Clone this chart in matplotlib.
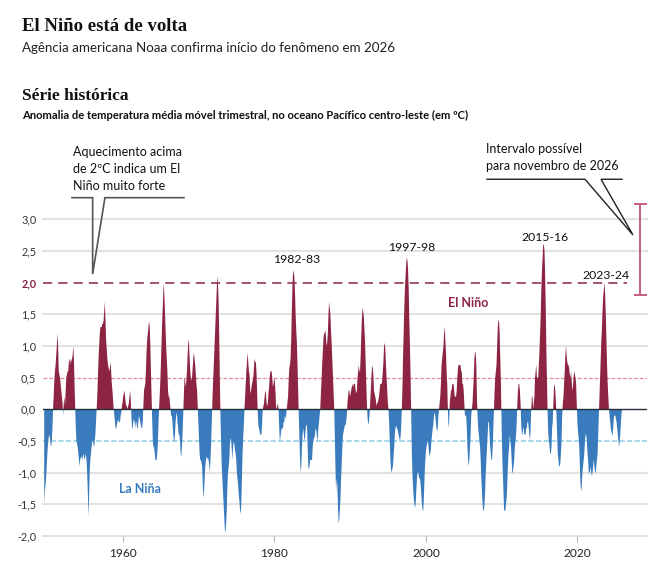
import numpy as np
import matplotlib
matplotlib.use("Agg")
import matplotlib.pyplot as plt

# ---------------- data: ONI (3-month running mean SST anomaly, degC), monthly from Jan 1950 ----
first_year = 1950
oni_1950s = [
    -1.5, -1.3, -1.2, -1.1, -0.9, -0.7, -0.55, -0.45, -0.4, -0.45, -0.55, -0.6,
    -0.5, -0.3, 0.0, 0.2, 0.45, 0.6, 0.7, 0.85, 1.0, 1.2, 1.0, 0.6,
    0.55, 0.5, 0.4, 0.3, 0.2, 0.1, -0.1, 0.1, 0.2, 0.05, 0.3, 0.5,
    0.55, 0.6, 0.6, 0.75, 0.8, 0.7, 0.8, 0.75, 0.8, 0.85, 1.0, 0.8,
    0.4, 0.05, -0.3, -0.5, -0.55, -0.6, -0.7, -0.8, -0.9, -0.8, -0.75, -0.75,
    -0.8, -0.75, -0.7, -0.75, -0.8, -0.75, -0.7, -0.8, -1.0, -1.3, -1.7, -1.4,
    -1.0, -0.8, -0.7, -0.6, -0.5, -0.5, -0.55, -0.6, -0.5, -0.4, -0.2, 0.0,
    0.2, 0.5, 0.8, 1.0, 1.2, 1.3, 1.3, 1.3, 1.35, 1.35, 1.4, 1.55,
    1.7, 1.4, 1.1, 0.95, 0.8, 0.7, 0.65, 0.6, 0.65, 0.75, 0.6, 0.4,
    0.3, 0.15, 0.0, -0.1, -0.2, -0.3, -0.3, -0.25, -0.2, -0.15, -0.2, -0.2,
]
oni_1960s = [
    -0.2, -0.1, -0.05, 0.05, 0.1, 0.2, 0.25, 0.3, 0.2, 0.1, 0.05, 0.05,
    0.0, 0.05, 0.1, 0.2, 0.3, 0.15, -0.1, -0.3, -0.3, -0.2, -0.15, -0.2,
    -0.3, -0.2, -0.2, -0.3, -0.3, -0.2, -0.1, -0.15, -0.2, -0.25, -0.3, -0.3,
    -0.2, 0.05, 0.3, 0.35, 0.4, 0.6, 0.9, 1.1, 1.2, 1.3, 1.4, 1.3,
    1.0, 0.6, 0.2, -0.2, -0.5, -0.6, -0.6, -0.7, -0.8, -0.8, -0.8, -0.7,
    -0.5, -0.2, 0.05, 0.25, 0.5, 0.8, 1.15, 1.45, 1.7, 2.0, 1.85, 1.6,
    1.3, 1.0, 0.8, 0.6, 0.3, 0.2, 0.2, 0.1, 0.0, -0.1, -0.1, -0.2,
    -0.35, -0.5, -0.5, -0.4, -0.2, -0.1, -0.05, -0.2, -0.3, -0.4, -0.4, -0.5,
    -0.7, -0.75, -0.6, -0.4, -0.1, 0.2, 0.5, 0.45, 0.35, 0.45, 0.6, 0.85,
    1.05, 1.1, 0.85, 0.65, 0.5, 0.45, 0.5, 0.65, 0.8, 0.9, 0.8, 0.7,
]
oni_1970s = [
    0.55, 0.4, 0.3, 0.05, -0.2, -0.45, -0.7, -0.8, -0.8, -0.85, -0.9, -1.2,
    -1.4, -1.3, -1.1, -0.9, -0.8, -0.75, -0.8, -0.75, -0.8, -0.85, -1.0, -0.85,
    -0.6, -0.3, 0.05, 0.35, 0.6, 0.85, 1.1, 1.35, 1.6, 1.85, 2.1, 2.0,
    1.75, 1.2, 0.5, -0.1, -0.5, -0.9, -1.1, -1.3, -1.5, -1.7, -1.9, -1.95,
    -1.8, -1.6, -1.2, -1.0, -0.9, -0.8, -0.55, -0.45, -0.5, -0.65, -0.8, -0.6,
    -0.5, -0.55, -0.65, -0.7, -0.8, -1.0, -1.1, -1.2, -1.35, -1.45, -1.6, -1.65,
    -1.5, -1.1, -0.7, -0.45, -0.25, 0.0, 0.2, 0.4, 0.6, 0.75, 0.9, 0.75,
    0.6, 0.55, 0.3, 0.25, 0.35, 0.4, 0.45, 0.5, 0.65, 0.8, 0.75, 0.75,
    0.6, 0.3, -0.05, -0.25, -0.3, -0.35, -0.4, -0.4, -0.4, -0.2, 0.0, 0.05,
    0.1, 0.2, 0.3, 0.25, 0.1, 0.05, 0.1, 0.25, 0.35, 0.5, 0.6, 0.6,
]
oni_1980s = [
    0.6, 0.5, 0.35, 0.4, 0.5, 0.45, 0.3, 0.05, 0.0, 0.05, 0.1, 0.0,
    -0.3, -0.5, -0.45, -0.35, -0.3, -0.3, -0.3, -0.2, -0.2, -0.1, -0.15, -0.1,
    0.0, 0.1, 0.2, 0.45, 0.65, 0.7, 0.8, 1.1, 1.55, 1.95, 2.2, 2.15,
    2.1, 1.85, 1.5, 1.25, 1.05, 0.7, 0.3, -0.1, -0.45, -0.8, -1.0, -0.9,
    -0.6, -0.4, -0.3, -0.4, -0.5, -0.45, -0.3, -0.25, -0.25, -0.6, -0.9, -0.95,
    -0.9, -0.8, -0.8, -0.8, -0.8, -0.6, -0.5, -0.45, -0.45, -0.35, -0.3, -0.35,
    -0.5, -0.45, -0.3, -0.2, -0.1, 0.0, 0.25, 0.45, 0.7, 0.9, 1.1, 1.2,
    1.2, 1.25, 1.15, 1.0, 1.05, 1.2, 1.5, 1.7, 1.6, 1.5, 1.25, 1.05,
    0.8, 0.55, 0.3, 0.05, -0.4, -0.9, -1.3, -1.1, -1.2, -1.5, -1.8, -1.75,
    -1.6, -1.4, -1.1, -0.85, -0.6, -0.4, -0.35, -0.3, -0.25, -0.25, -0.2, -0.1,
]
oni_1990s = [
    0.1, 0.2, 0.3, 0.3, 0.2, 0.25, 0.3, 0.35, 0.4, 0.35, 0.4, 0.4,
    0.4, 0.3, 0.25, 0.3, 0.5, 0.6, 0.7, 0.6, 0.6, 0.85, 1.2, 1.45,
    1.6, 1.55, 1.45, 1.25, 1.05, 0.7, 0.35, 0.05, -0.15, -0.25, -0.2, -0.1,
    0.1, 0.3, 0.5, 0.7, 0.65, 0.55, 0.3, 0.25, 0.2, 0.15, 0.05, 0.1,
    0.1, 0.15, 0.2, 0.3, 0.4, 0.4, 0.4, 0.45, 0.6, 0.75, 1.0, 1.05,
    0.95, 0.7, 0.5, 0.3, 0.1, 0.0, -0.2, -0.5, -0.8, -0.95, -1.0, -0.95,
    -0.9, -0.75, -0.6, -0.4, -0.3, -0.25, -0.3, -0.3, -0.35, -0.4, -0.45, -0.5,
    -0.45, -0.3, -0.05, 0.3, 0.8, 1.2, 1.6, 1.9, 2.1, 2.3, 2.4, 2.35,
    2.2, 1.9, 1.4, 1.0, 0.5, -0.1, -0.7, -1.05, -1.25, -1.4, -1.5, -1.55,
    -1.5, -1.3, -1.1, -1.0, -1.0, -1.05, -1.1, -1.1, -1.2, -1.35, -1.5, -1.6,
]
oni_2000s = [
    -1.6, -1.4, -1.1, -0.85, -0.7, -0.6, -0.55, -0.5, -0.55, -0.65, -0.75, -0.7,
    -0.65, -0.5, -0.4, -0.3, -0.25, -0.1, -0.05, -0.1, -0.2, -0.3, -0.35, -0.3,
    -0.1, 0.0, 0.1, 0.2, 0.4, 0.7, 0.8, 0.9, 1.0, 1.2, 1.3, 1.1,
    0.9, 0.6, 0.4, 0.0, -0.3, -0.2, 0.1, 0.2, 0.3, 0.3, 0.4, 0.4,
    0.4, 0.3, 0.2, 0.2, 0.2, 0.3, 0.5, 0.65, 0.7, 0.7, 0.7, 0.7,
    0.6, 0.6, 0.4, 0.4, 0.3, 0.1, -0.1, -0.1, -0.1, -0.3, -0.6, -0.8,
    -0.9, -0.8, -0.6, -0.4, -0.1, 0.0, 0.1, 0.3, 0.5, 0.8, 0.9, 0.9,
    0.7, 0.2, -0.1, -0.3, -0.4, -0.5, -0.6, -0.8, -1.1, -1.3, -1.5, -1.6,
    -1.6, -1.5, -1.3, -1.0, -0.8, -0.6, -0.4, -0.2, -0.2, -0.4, -0.6, -0.7,
    -0.8, -0.8, -0.6, -0.3, 0.0, 0.3, 0.5, 0.6, 0.7, 1.0, 1.3, 1.4,
]
oni_2010s = [
    1.4, 1.2, 0.8, 0.4, -0.2, -0.7, -1.0, -1.3, -1.6, -1.6, -1.6, -1.5,
    -1.4, -1.2, -0.9, -0.7, -0.6, -0.4, -0.5, -0.6, -0.8, -1.0, -1.0, -0.9,
    -0.8, -0.6, -0.5, -0.4, -0.2, 0.1, 0.3, 0.4, 0.4, 0.3, 0.1, -0.2,
    -0.4, -0.4, -0.3, -0.3, -0.4, -0.4, -0.4, -0.3, -0.3, -0.2, -0.2, -0.3,
    -0.4, -0.5, -0.3, 0.0, 0.2, 0.2, 0.0, 0.1, 0.2, 0.5, 0.6, 0.7,
    0.5, 0.5, 0.5, 0.7, 0.9, 1.2, 1.5, 1.9, 2.2, 2.4, 2.6, 2.6,
    2.5, 2.1, 1.6, 0.9, 0.4, -0.1, -0.4, -0.5, -0.6, -0.7, -0.7, -0.6,
    -0.3, -0.2, 0.1, 0.35, 0.4, 0.3, 0.1, -0.1, -0.4, -0.7, -0.8, -0.9,
    -0.9, -0.85, -0.7, -0.5, -0.1, 0.1, 0.2, 0.4, 0.6, 0.85, 1.0, 0.85,
    0.75, 0.7, 0.7, 0.65, 0.55, 0.5, 0.6, 0.45, 0.3, 0.35, 0.5, 0.6,
]
oni_2020s = [
    0.55, 0.5, 0.4, 0.1, -0.2, -0.35, -0.45, -0.6, -0.9, -1.2, -1.3, -1.2,
    -1.0, -0.9, -0.8, -0.7, -0.5, -0.4, -0.4, -0.5, -0.7, -0.8, -1.0, -1.0,
    -1.0, -0.9, -1.0, -1.05, -1.0, -0.9, -0.8, -0.9, -1.0, -1.0, -0.9, -0.8,
    -0.7, -0.4, -0.1, 0.2, 0.5, 0.8, 1.1, 1.3, 1.6, 1.8, 1.9, 2.0,
    1.8, 1.5, 1.1, 0.7, 0.4, 0.2, 0.0, -0.1, -0.2, -0.3, -0.35, -0.4,
    -0.4, -0.25, -0.1, -0.1, -0.1, -0.15, -0.2, -0.3, -0.4, -0.5, -0.6, -0.5,
    -0.4, -0.2, -0.05, 0.0,
]

# forecast range for November 2026 (degC)
forecast_low, forecast_high = 1.8, 3.25
very_strong = 2.0
threshold = 0.5

yticks = [3.0, 2.5, 2.0, 1.5, 1.0, 0.5, 0.0, -0.5, -1.0, -1.5, -2.0]
xticks = [1960, 1980, 2000, 2020]

peak_labels = ["1982-83", "1997-98", "2015-16", "2023-24"]
peak_pos = [(1983.0, 2.36), (1998.1, 2.55), (2015.65, 2.71), (2023.76, 2.12)]

# ---------------- style ----------------
RED = "#8d2442"
BLUE = "#3a7bbd"
SANS = ["Lato", "DejaVu Sans"]
SERIF = ["Liberation Serif", "DejaVu Serif"]
plt.rcParams["font.family"] = SANS

values = np.array(oni_1950s + oni_1960s + oni_1970s + oni_1980s +
                  oni_1990s + oni_2000s + oni_2010s + oni_2020s, dtype=float)
t = first_year - 0.35 + np.arange(len(values)) / 12.0

W, H = 663, 579
fig = plt.figure(figsize=(W / 100, H / 100), dpi=100)
fig.patch.set_facecolor("white")

ax = fig.add_axes([43.3 / W, 1 - 535.9 / H, 603.4 / W, 335.5 / H])
x0, x1 = 1949.53, 2029.13
ax.set_xlim(x0, x1)
ax.set_ylim(-2.0, 3.3)
for s in ax.spines.values():
    s.set_visible(False)

# grid
for v in yticks:
    if v in (very_strong, threshold, -threshold, 0.0):
        continue
    ax.axhline(v, color="#e2e2e2", lw=1.5, zorder=0, clip_on=False)
ax.axhline(threshold, color="#e28aa2", lw=0.9, ls=(0, (3, 1.5)), zorder=1)
ax.axhline(-threshold, color="#9fd4e8", lw=1.3, ls=(0, (3, 1.2)), zorder=1)
ax.hlines(very_strong, x0, 2026.5, color=RED, lw=1.1, ls=(0, (6, 4)), zorder=3)

# areas
ax.fill_between(t, values, 0, where=values >= 0, interpolate=True,
                color=RED, lw=0, zorder=2)
ax.fill_between(t, values, 0, where=values <= 0, interpolate=True,
                color=BLUE, lw=0, zorder=2)
ax.axhline(0, color="#24303c", lw=1.0, zorder=4)

# ticks
ax.set_yticks(yticks)
ax.set_yticklabels([f"{v:.1f}".replace(".", ",") for v in yticks])
ax.tick_params(axis="y", length=0, pad=5, labelsize=7.8, labelcolor="#333333")
for lab, v in zip(ax.get_yticklabels(), yticks):
    lab.set_fontfamily(SANS)
    if v == very_strong:
        lab.set_color(RED)
        lab.set_fontweight("bold")
ax.set_xticks(xticks)
ax.set_xticklabels([str(x) for x in xticks])
ax.tick_params(axis="x", length=4, width=0.8, color="#b5b5b5", pad=5,
               labelsize=8.6, labelcolor="#222222")

# labels on peaks
for lab, (px, py) in zip(peak_labels, peak_pos):
    ax.text(px, py, lab, ha="center", va="center", fontsize=8.8,
            color="#111111", zorder=5)
ax.text(2005.56, 1.68, "El Niño", ha="center", va="center", fontsize=9,
        fontweight="bold", color=RED)
ax.text(1962.28, -1.26, "La Niña", ha="center", va="center", fontsize=9,
        fontweight="bold", color=BLUE)

# forecast range bar
xb = 2028.25
ax.vlines(xb, forecast_low, forecast_high, color="#c45f7b", lw=1.4, clip_on=False)
ax.hlines([forecast_low, forecast_high], xb - 0.86, xb + 0.86, color="#c45f7b",
          lw=1.4, clip_on=False)

# callouts
ax.plot([1953.31, 1956.04, 1956.04, 1957.66, 1968.09],
        [3.343, 3.343, 2.137, 3.343, 3.343], color="#555555", lw=1.2,
        clip_on=False, solid_joinstyle="miter")
ax.text(1953.44, 3.80, "Aquecimento acima\nde 2ºC indica um El\nNiño muito forte",
        ha="left", va="center", fontsize=9, color="#111111", linespacing=1.5)
ax.plot([2008.06, 2020.99, 2027.32, 2023.10, 2025.87],
        [3.634, 3.634, 2.754, 3.634, 3.634], color="#222222", lw=1.0,
        clip_on=False, solid_joinstyle="miter")
ax.text(2007.94, 3.98, "Intervalo possível\npara novembro de 2026",
        ha="left", va="center", fontsize=9, color="#111111", linespacing=1.5)

# headings
fig.text(22.5 / W, 1 - 30.7 / H, "El Niño está de volta", family=SERIF,
         fontweight="bold", fontsize=13.5, color="#111111", va="baseline")
fig.text(22.5 / W, 1 - 52.3 / H, "Agência americana Noaa confirma início do fenômeno em 2026",
         fontsize=9.6, color="#222222", va="baseline")
fig.text(22.5 / W, 1 - 100 / H, "Série histórica", family=SERIF,
         fontweight="bold", fontsize=12.5, color="#111111", va="baseline")
fig.text(22.5 / W, 1 - 119 / H,
         "Anomalia de temperatura média móvel trimestral, no oceano Pacífico centro-leste (em ºC)",
         fontsize=8.1, fontweight="bold", color="#111111", va="baseline")

fig.savefig("out.png", dpi=100, facecolor="white")
